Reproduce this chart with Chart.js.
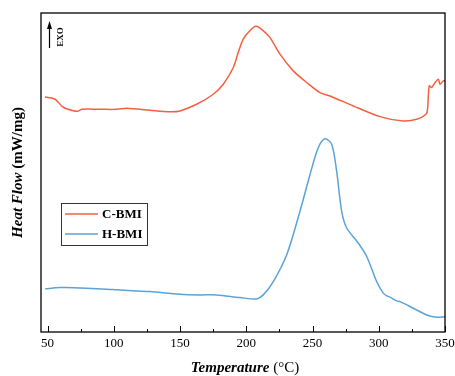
<!DOCTYPE html>
<html>
<head>
<meta charset="utf-8">
<script src="https://cdn.jsdelivr.net/npm/chart.js@4.4.0/dist/chart.umd.min.js"></script>
<style>
  html, body { margin: 0; padding: 0; background: #fff; }
  #wrap { width: 455px; height: 376px; }
</style>
</head>
<body>
<div id="wrap"><canvas id="dsc"></canvas></div>
<script>
// DSC curves, heat flow in arbitrary units (exo up)
var cbmiTemp = [48, 55.6, 60.9, 65.4, 72.2, 76, 89.5, 102.4, 109.9, 127.3, 142.4, 149.9, 162.5, 175.1, 182.6, 190.2, 194, 197.7, 202.8, 207.3, 211.8, 217.8, 225.4, 235.5, 245.6, 255.6, 263.2, 280.8, 300.9, 318.5, 328.6, 335.7, 336.8, 338.1, 339.9, 342.5, 345, 346.2, 348.7, 350];
var cbmiFlow = [234.3, 232, 225, 222, 220, 222, 222, 222, 223, 221, 219.5, 220.3, 227, 237, 247, 263.7, 279, 292, 300.5, 304.7, 301.5, 293.7, 277, 260.3, 248.7, 238.7, 235.3, 225.3, 214.7, 210.3, 212, 217, 222, 245.3, 243.7, 248.7, 252, 247, 250.3, 250.3];

var hbmiTemp = [48.2, 59.3, 64.4, 94.6, 102.1, 124.8, 127.3, 149.9, 165, 177.6, 195.2, 207.8, 212.8, 220.4, 230.5, 240.5, 248.1, 254.3, 259.4, 264.5, 268.2, 272, 275.8, 284.5, 290.9, 298.4, 303.4, 306, 308.5, 313.5, 316, 326.1, 336.2, 343.7, 350];
var hbmiFlow = [43, 44.3, 44.3, 42.7, 42, 40.3, 40.3, 37.7, 37, 37, 34.3, 33, 37, 50.3, 77, 120.3, 157, 183.7, 192.7, 187, 160.3, 120.3, 103.7, 88.7, 75.3, 50.3, 38.7, 36, 34.7, 31, 30.3, 23.7, 17, 14.7, 15.3];

var seriesNames = ["C-BMI", "H-BMI"];
var seriesColors = ["#f4603f", "#5ba3d6"];
var xTicks = [50, 100, 150, 200, 250, 300, 350];
var xMinorTicks = [75, 125, 175, 225, 275, 325];

function toPoints(xs, ys) {
    var pts = [];
    for (var i = 0; i < xs.length; i++) {
        pts.push({ x: xs[i], y: ys[i] });
    }
    return pts;
}

var serif = "'Liberation Serif', 'Times New Roman', serif";

// frame, inner ticks, titles, EXO arrow and legend
var decorPlugin = {
    id: "decor",
    afterDraw: function (chart) {
        var ctx = chart.ctx;
        var a = chart.chartArea;
        var xs = chart.scales.x;
        ctx.save();

        ctx.strokeStyle = "#000";
        ctx.lineWidth = 1.3;
        ctx.strokeRect(a.left, a.top, a.right - a.left, a.bottom - a.top);

        ctx.lineWidth = 1;
        ctx.beginPath();
        xTicks.forEach(function (v) {
            var px = Math.round(xs.getPixelForValue(v)) + 0.5;
            ctx.moveTo(px, a.bottom);
            ctx.lineTo(px, a.bottom - 6);
        });
        xMinorTicks.forEach(function (v) {
            var px = Math.round(xs.getPixelForValue(v)) + 0.5;
            ctx.moveTo(px, a.bottom);
            ctx.lineTo(px, a.bottom - 3);
        });
        ctx.stroke();

        // x title: italic bold word + regular unit
        ctx.fillStyle = "#000";
        ctx.textBaseline = "middle";
        var f1 = "italic bold 15px " + serif;
        var f2 = "15px " + serif;
        var t1 = "Temperature ", t2 = "(°C)";
        ctx.font = f1;
        var w1 = ctx.measureText(t1).width;
        ctx.font = f2;
        var w2 = ctx.measureText(t2).width;
        var cx = 245, cy = 368;
        ctx.textAlign = "left";
        ctx.font = f1;
        ctx.fillText(t1, cx - (w1 + w2) / 2, cy);
        ctx.font = f2;
        ctx.fillText(t2, cx - (w1 + w2) / 2 + w1, cy);

        // y title
        ctx.save();
        ctx.translate(18, (a.top + a.bottom) / 2);
        ctx.rotate(-Math.PI / 2);
        var g1 = "italic bold 15px " + serif;
        var g2 = "bold 15px " + serif;
        var s1 = "Heat Flow ", s2 = "(mW/mg)";
        ctx.font = g1;
        var v1 = ctx.measureText(s1).width;
        ctx.font = g2;
        var v2 = ctx.measureText(s2).width;
        ctx.font = g1;
        ctx.fillText(s1, -(v1 + v2) / 2, 0);
        ctx.font = g2;
        ctx.fillText(s2, -(v1 + v2) / 2 + v1, 0);
        ctx.restore();

        // EXO arrow
        ctx.lineWidth = 1.2;
        ctx.beginPath();
        ctx.moveTo(49.5, 48);
        ctx.lineTo(49.5, 27);
        ctx.stroke();
        ctx.beginPath();
        ctx.moveTo(49.5, 21);
        ctx.lineTo(47, 29);
        ctx.lineTo(52, 29);
        ctx.closePath();
        ctx.fill();
        ctx.save();
        ctx.translate(61, 37);
        ctx.rotate(-Math.PI / 2);
        ctx.textAlign = "center";
        ctx.font = "bold 9px " + serif;
        ctx.fillText("EXO", 0, 0);
        ctx.restore();

        // legend box
        var lx = 61, ly = 203, lw = 86, lh = 42;
        ctx.lineWidth = 1;
        ctx.strokeStyle = "#333";
        ctx.strokeRect(lx + 0.5, ly + 0.5, lw, lh);
        ctx.font = "bold 13px " + serif;
        ctx.textAlign = "left";
        chart.data.datasets.forEach(function (ds, i) {
            var yy = ly + 11 + i * 20;
            ctx.strokeStyle = ds.borderColor;
            ctx.lineWidth = 1.5;
            ctx.beginPath();
            ctx.moveTo(lx + 4, yy);
            ctx.lineTo(lx + 37, yy);
            ctx.stroke();
            ctx.fillStyle = "#000";
            ctx.fillText(ds.label, lx + 41, yy + 1);
        });

        ctx.restore();
    }
};

new Chart(document.getElementById("dsc"), {
    type: "line",
    data: {
        datasets: [
            {
                label: seriesNames[0],
                data: toPoints(cbmiTemp, cbmiFlow),
                borderColor: seriesColors[0],
                borderWidth: 1.5,
                pointRadius: 0,
                tension: 0.3,
                fill: false,
            },
            {
                label: seriesNames[1],
                data: toPoints(hbmiTemp, hbmiFlow),
                borderColor: seriesColors[1],
                borderWidth: 1.5,
                pointRadius: 0,
                tension: 0.3,
                fill: false,
            },
        ],
    },
    options: {
        responsive: true,
        maintainAspectRatio: false,
        animation: false,
        layout: {
            padding: { left: 41, right: 10, top: 13, bottom: 0 },
        },
        plugins: {
            legend: { display: false },
            tooltip: { enabled: false },
        },
        scales: {
            x: {
                type: "linear",
                min: 45,
                max: 350,
                afterBuildTicks: function (scale) {
                    scale.ticks = xTicks.map(function (v) { return { value: v }; });
                },
                afterFit: function (scale) {
                    scale.height = 44;
                    scale.paddingLeft = 0;
                    scale.paddingRight = 0;
                },
                grid: { display: false, drawTicks: false },
                border: { display: false },
                ticks: {
                    padding: 4,
                    color: "#000",
                    maxRotation: 0,
                    autoSkip: false,
                    font: { family: serif, size: 13 },
                },
            },
            y: {
                display: false,
                min: 0,
                max: 318,
            },
        },
    },
    plugins: [decorPlugin],
});
</script>
</body>
</html>
